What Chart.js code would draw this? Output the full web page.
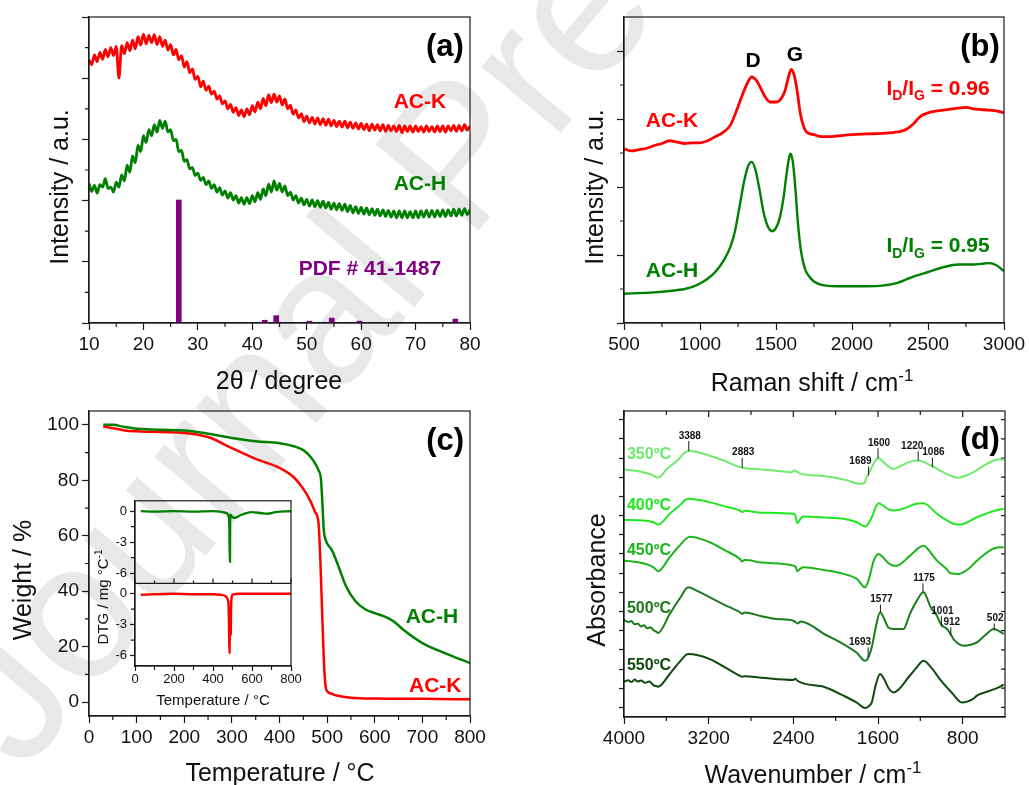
<!DOCTYPE html>
<html>
<head>
<meta charset="utf-8">
<script src="https://cdn.jsdelivr.net/npm/chart.js@4.4.1/dist/chart.umd.min.js"></script>
<style>
  body { margin: 0; background: #fff; width: 1029px; height: 785px; overflow: hidden; position: relative; }
  canvas { position: absolute; }
  .wm { position: absolute; left: -104px; top: 668px; font: 195px "Liberation Sans", Arial, sans-serif; line-height: 1;
        color: #e8e8e8; white-space: nowrap; transform: rotate(-50deg); transform-origin: 0 0; }
</style>
</head>
<body>
<div class="wm">Journal Pre-proof</div>
<canvas id="pa" width="505" height="395" style="left:0;top:0"></canvas>
<canvas id="pb" width="519" height="395" style="left:510px;top:0"></canvas>
<canvas id="pc" width="505" height="390" style="left:0;top:395px"></canvas>
<canvas id="pd" width="519" height="390" style="left:510px;top:395px"></canvas>
<canvas id="pi" width="230" height="220" style="left:80px;top:490px"></canvas>
<script>
// ---- (a) XRD, sampled every 0.5 degree from 10 to 80
const xrdAngleStart = 10, xrdAngleStep = 0.5;
const xrdK = [4.30,4.22,4.38,4.27,4.42,4.31,4.47,4.35,4.50,4.37,4.52,4.00,4.53,4.40,4.58,4.45,4.62,4.48,4.68,4.54,
  4.72,4.56,4.70,4.58,4.71,4.55,4.68,4.52,4.62,4.46,4.55,4.38,4.47,4.30,4.37,4.18,4.27,4.09,4.15,3.98,
  4.03,3.86,3.95,3.80,3.87,3.74,3.79,3.66,3.71,3.58,3.63,3.50,3.57,3.44,3.52,3.39,3.48,3.37,3.50,3.40,
  3.55,3.45,3.61,3.50,3.67,3.55,3.73,3.60,3.74,3.61,3.71,3.56,3.66,3.50,3.56,3.41,3.48,3.35,3.42,3.29,
  3.38,3.27,3.36,3.25,3.35,3.24,3.34,3.23,3.33,3.22,3.31,3.21,3.30,3.20,3.30,3.19,3.28,3.18,3.27,3.17,
  3.26,3.16,3.25,3.14,3.25,3.15,3.24,3.14,3.24,3.13,3.23,3.14,3.22,3.13,3.23,3.11,3.22,3.13,3.22,3.12,
  3.22,3.13,3.21,3.12,3.22,3.13,3.21,3.12,3.22,3.13,3.22,3.12,3.22,3.14,3.23,3.13,3.23,3.14,3.24,3.15,3.22];
const xrdH = [2.28,2.15,2.25,2.12,2.26,2.22,2.36,2.20,2.22,2.14,2.30,2.22,2.42,2.32,2.58,2.46,2.73,2.62,2.90,2.80,
  3.06,2.95,3.16,3.06,3.24,3.12,3.31,3.18,3.30,3.12,3.16,2.98,3.00,2.80,2.82,2.64,2.67,2.52,2.54,2.41,
  2.45,2.33,2.38,2.26,2.32,2.20,2.26,2.14,2.21,2.09,2.16,2.04,2.13,2.01,2.08,1.96,2.05,1.94,2.05,1.95,
  2.08,1.98,2.13,2.02,2.19,2.08,2.27,2.14,2.32,2.17,2.28,2.14,2.24,2.08,2.14,2.01,2.08,1.96,2.04,1.93,
  2.02,1.91,2.01,1.90,2.00,1.89,1.99,1.88,1.97,1.86,1.96,1.85,1.95,1.84,1.94,1.82,1.92,1.80,1.90,1.79,
  1.89,1.78,1.88,1.77,1.87,1.76,1.86,1.75,1.85,1.74,1.84,1.73,1.83,1.72,1.83,1.72,1.83,1.72,1.82,1.72,
  1.83,1.72,1.83,1.73,1.84,1.73,1.84,1.73,1.84,1.74,1.85,1.74,1.85,1.75,1.86,1.75,1.86,1.76,1.87,1.77,1.85];
const pdfAngle = [26.5, 42.3, 44.4, 50.5, 54.6, 59.7, 77.3];
const pdfHeight = [2.01, 0.045, 0.12, 0.03, 0.08, 0.03, 0.065];

// ---- (b) Raman
const ramanShiftK = [500,550,600,650,700,750,800,850,900,950,1000,1050,1100,1150,1200,1250,1280,1310,1340,1370,1400,1430,1460,
  1500,1530,1560,1580,1600,1620,1640,1660,1680,1700,1750,1800,1850,1900,2000,2100,2200,2300,2350,2400,2450,2500,2600,2700,2750,2800,2900,2950,3000];
const ramanK = [2.56,2.53,2.55,2.57,2.61,2.64,2.68,2.66,2.64,2.65,2.65,2.68,2.74,2.80,2.91,3.18,3.36,3.52,3.62,3.57,3.45,3.32,3.25,
  3.25,3.29,3.42,3.60,3.73,3.64,3.40,3.08,2.90,2.81,2.77,2.74,2.74,2.75,2.77,2.78,2.79,2.81,2.84,2.92,3.04,3.09,3.13,3.16,3.17,3.15,3.13,3.12,3.09];
const ramanShiftH = [500,600,700,800,900,950,1000,1050,1100,1150,1200,1230,1260,1290,1315,1340,1365,1390,1420,1450,1475,1500,1525,
  1550,1570,1585,1595,1610,1625,1645,1665,1690,1720,1750,1800,1900,2000,2100,2200,2300,2400,2500,2600,2700,2800,2850,2900,2950,3000];
const ramanH = [0.43,0.44,0.45,0.47,0.50,0.53,0.58,0.65,0.75,0.90,1.12,1.35,1.71,2.08,2.30,2.37,2.25,1.98,1.61,1.40,1.35,1.40,1.55,
  1.85,2.20,2.42,2.49,2.38,2.05,1.45,1.05,0.80,0.68,0.61,0.56,0.54,0.54,0.54,0.55,0.59,0.68,0.75,0.82,0.86,0.86,0.87,0.88,0.85,0.76];

// ---- (c) TGA and DTG inset
const tgaTempH = [30,50,75,100,150,200,250,300,350,400,430,450,465,475,482,487,490,493,496,500,510,520,540,560,580,600,620,640,660,700,750,800];
const tgaWeightH = [100,100,99.2,98.6,98.2,98.0,96.8,95.3,94.1,93.4,92.3,90.9,88.5,86.0,83.6,80.5,72,62,59.0,57.2,54.8,50.7,41.7,36.3,33.5,32.1,30.9,29.1,26.1,21.3,17.5,14.1];
const tgaTempK = [30,50,75,100,150,200,250,300,350,400,430,450,465,475,482,486,490,494,497,500,510,520,550,600,700,800];
const tgaWeightK = [99.4,98.8,98.0,97.7,97.4,97.1,95.6,91.6,87.7,84.5,81.1,76.9,72.5,68.5,64.5,50,30,12,5.5,4.0,3.0,2.4,1.6,1.3,1.2,1.0];
const dtgTempH = [30,100,200,300,400,450,470,480,484,486,487,488,490,495,505,520,540,570,600,650,680,720,800];
const dtgH = [0,-0.05,0,-0.05,0,-0.1,-0.2,-0.45,-1.5,-4.9,-4.9,-1.0,-0.35,-0.45,-0.65,-0.6,-0.4,-0.2,-0.1,-0.2,-0.25,-0.1,0];
const dtgTempK = [30,100,200,300,400,440,460,470,476,480,482,484,485,487,489,491,493,496,500,510,530,600,800];
const dtgK = [-0.1,-0.05,0,-0.05,-0.05,-0.1,-0.2,-0.35,-0.6,-1.2,-3.0,-5.75,-5.6,-2.5,-4.0,-3.9,-1.2,-0.3,-0.1,-0.05,0,0,0];

// ---- (d) FTIR, offset absorbance
const irTickValues = [800, 1600, 2400, 3200, 4000];
const ir350Wn = [4000,3850,3750,3672,3600,3500,3394,3300,3195,3050,2889,2700,2500,2420,2390,2369,2340,2100,1900,1769,1730,1706,1660,1620,1595,1560,1500,1453,1380,1300,1217,1150,1069,1000,900,854,800,700,600,500,450,412];
const ir350 = [12.4,12.3,12.15,11.98,12.4,12.85,13.36,13.3,13.13,12.85,12.5,12.4,12.3,12.25,12.35,12.3,12.2,12.05,11.85,11.65,11.7,12.0,12.5,12.9,13.0,12.85,12.55,12.43,12.6,12.8,12.87,12.75,12.52,12.3,12.05,11.97,12.02,12.25,12.6,12.88,12.93,12.9];
const ir400Wn = [4000,3820,3720,3678,3568,3480,3394,3195,3050,2905,2883,2860,2700,2400,2380,2362,2330,2305,2100,1927,1800,1722,1690,1659,1620,1595,1560,1500,1453,1400,1327,1250,1170,1120,1043,950,854,800,665,500,412];
const ir400 = [9.77,9.74,9.65,9.53,10.09,10.5,10.87,10.70,10.48,10.26,10.18,10.25,10.15,10.09,10.0,9.60,9.85,9.95,9.9,9.83,9.65,9.43,9.6,9.91,10.45,10.64,10.55,10.32,10.26,10.3,10.43,10.6,10.64,10.5,10.09,9.75,9.53,9.55,9.91,10.25,10.35];
const ir450Wn = [4000,3820,3720,3678,3568,3480,3378,3189,3050,2905,2883,2860,2700,2400,2375,2362,2330,2305,2100,1927,1800,1722,1690,1640,1595,1560,1500,1453,1422,1300,1170,1100,1043,950,917,838,750,665,500,412];
const ir450 = [7.65,7.51,7.3,7.10,7.83,8.4,8.90,8.61,8.2,7.74,7.6,7.7,7.55,7.39,7.3,7.10,7.25,7.30,7.15,6.96,6.7,6.26,6.61,7.65,8.0,7.86,7.51,7.39,7.39,7.9,8.43,8.05,7.65,7.2,6.99,6.96,7.2,7.65,8.3,8.35];
const ir500Wn = [4000,3960,3930,3900,3870,3840,3810,3780,3750,3720,3690,3678,3568,3470,3394,3315,3189,3050,2905,2883,2860,2700,2558,2400,2380,2362,2330,2100,1927,1800,1722,1696,1659,1620,1580,1540,1500,1453,1359,1300,1240,1170,1100,1050,1001,950,912,885,791,665,580,507,412];
const ir500 = [4.56,4.45,4.50,4.33,4.37,4.22,4.28,4.12,4.18,4.02,3.93,3.88,4.87,5.7,6.26,6.09,5.74,5.35,4.96,4.88,4.95,4.75,4.61,4.52,4.45,4.38,4.48,3.8,3.30,2.85,2.43,2.55,3.13,4.2,4.96,4.6,4.15,4.09,4.09,4.85,5.5,6.0,5.2,4.85,4.3,4.1,3.8,3.55,3.22,3.39,3.8,4.09,3.83];
const ir550Wn = [4000,3960,3930,3900,3870,3840,3800,3760,3720,3690,3678,3568,3470,3394,3189,3050,2905,2883,2860,2700,2400,2380,2362,2100,1927,1800,1722,1690,1659,1620,1580,1540,1500,1453,1300,1240,1170,1100,1012,900,807,700,665,500,412];
const ir550 = [1.34,1.42,1.32,1.45,1.35,1.40,1.28,1.35,1.15,1.10,1.08,1.74,2.4,2.78,2.52,2.1,1.65,1.60,1.63,1.55,1.43,1.50,1.39,1.05,0.61,0.25,-0.03,0.05,0.26,1.2,1.74,1.45,1.0,0.78,1.65,2.05,2.43,2.1,1.45,0.75,0.26,0.45,0.61,0.95,1.18];
const irMarkWn = [3388, 2883, 1689, 1600, 1220, 1086, 1175, 1577, 1001, 912, 502, 1693];
const irMarkTop = [13.88, 13.01, 12.56, 13.51, 13.34, 13.01, 6.47, 5.36, 4.75, 4.17, 4.38, 3.13];
const irMarkBottom = [13.36, 12.49, 12.09, 12.99, 12.87, 12.52, 6.0, 4.96, 4.21, 3.74, 4.03, 2.61];

const FONT = '"Liberation Sans", Arial, Helvetica, sans-serif';
const INK = '#1a1a1a';
const RED = '#ff0000', GREEN = '#008000', PURPLE = '#800080';
const IR_COLORS = ['#6eea6e', '#22e622', '#1cb41c', '#1b7a1b', '#0f4a0f'];

const pts = (xs, ys) => ys.map((y, i) => ({ x: xs[i], y }));

function line(data, color, width, yAxisID) {
  return { data, borderColor: color, borderWidth: width, pointRadius: 0, fill: false,
    cubicInterpolationMode: 'monotone', borderJoin: 'round', yAxisID: yAxisID || 'y' };
}

function scale(o) {
  const s = {
    type: 'linear', position: o.pos, min: o.min, max: o.max, reverse: !!o.reverse, offset: false,
    stack: o.stack, stackWeight: 1,
    border: { color: INK, width: 1.2 },
    grid: { offset: false, drawOnChartArea: false, drawTicks: true, tickLength: o.tick || 7, tickWidth: 1.2, tickColor: INK },
    ticks: { stepSize: o.step, includeBounds: false, autoSkip: false, maxRotation: 0, minRotation: 0,
      padding: o.pad == null ? 3 : o.pad, color: '#111', font: { family: FONT, size: o.font || 19 },
      callback: v => (o.labels ? v : '') },
    afterFit: sc => { if (o.pos === 'bottom') sc.height = o.size; else sc.width = o.size; }
  };
  if (o.values) s.afterBuildTicks = sc => { sc.ticks = o.values.map(v => ({ value: v })); };
  return s;
}

// text with optional sub (1) / superscript (2) parts, y is the cap middle
function drawRich(ctx, n, x, y) {
  const parts = n.parts || [[n.text, 0]];
  const fs = n.size, w = n.bold ? 'bold ' : '';
  const fontFor = k => w + (k ? Math.round(fs * 0.68) : fs) + 'px ' + FONT;
  let total = 0;
  parts.forEach(p => { ctx.font = fontFor(p[1]); total += ctx.measureText(p[0]).width; });
  ctx.save();
  ctx.translate(x, y);
  if (n.rotate) ctx.rotate(n.rotate * Math.PI / 180);
  let cx = n.align === 'left' ? 0 : n.align === 'right' ? -total : -total / 2;
  ctx.fillStyle = n.color || '#000';
  ctx.textBaseline = 'alphabetic';
  parts.forEach(p => {
    ctx.font = fontFor(p[1]);
    const dy = p[1] === 1 ? fs * 0.25 : p[1] === 2 ? -fs * 0.4 : 0;
    ctx.fillText(p[0], cx, fs * 0.358 + dy);
    cx += ctx.measureText(p[0]).width;
  });
  ctx.restore();
}

const deco = {
  id: 'deco',
  afterDraw(chart, args, o) {
    const ctx = chart.ctx, a = chart.chartArea;
    ctx.save();
    ctx.strokeStyle = INK;
    ctx.lineWidth = 1.2;
    ctx.beginPath();
    (o.minor || []).forEach(id => {
      const s = chart.scales[id];
      const px = s.ticks.map(t => s.getPixelForValue(t.value));
      for (let i = 0; i < px.length - 1; i++) {
        const m = (px[i] + px[i + 1]) / 2;
        if (s.isHorizontal()) { ctx.moveTo(m, a.bottom); ctx.lineTo(m, a.bottom + 4); }
        else { ctx.moveTo(a.left, m); ctx.lineTo(a.left - 4, m); }
      }
    });
    if (o.mirror) {
      const sx = chart.scales.x, sy = chart.scales.y;
      const xp = sx.ticks.map(t => sx.getPixelForValue(t.value));
      xp.forEach((p, i) => {
        ctx.moveTo(p, a.top); ctx.lineTo(p, a.top + 6);
        if (i < xp.length - 1) { const m = (p + xp[i + 1]) / 2; ctx.moveTo(m, a.top); ctx.lineTo(m, a.top + 4); }
      });
      sy.ticks.forEach(t => { const p = sy.getPixelForValue(t.value); ctx.moveTo(a.right, p); ctx.lineTo(a.right - 4, p); });
    }
    if (o.split) {
      const yb = chart.scales[o.split].bottom, sx = chart.scales.x;
      ctx.moveTo(a.left, yb); ctx.lineTo(a.right, yb);
      const xp = sx.ticks.map(t => sx.getPixelForValue(t.value));
      xp.forEach((p, i) => {
        ctx.moveTo(p, yb); ctx.lineTo(p, yb - 5);
        if (i < xp.length - 1) { const m = (p + xp[i + 1]) / 2; ctx.moveTo(m, yb); ctx.lineTo(m, yb - 3); }
      });
    }
    ctx.stroke();
    ctx.strokeRect(a.left, a.top, a.right - a.left, a.bottom - a.top);
    (o.marks || []).forEach(m => {
      const x = chart.scales.x.getPixelForValue(m.x);
      const y1 = chart.scales.y.getPixelForValue(m.top), y2 = chart.scales.y.getPixelForValue(m.bottom);
      ctx.lineWidth = 1;
      ctx.beginPath(); ctx.moveTo(x, y1); ctx.lineTo(x, y2); ctx.stroke();
      const tx = m.align === 'right' ? x + 3 : x + (m.dx || 0) + 1;
      drawRich(ctx, { text: m.text, size: 10, bold: true, color: '#111', align: m.align }, tx, y1 - 6);
    });
    (o.notes || []).forEach(n => {
      const x = n.px != null ? n.px : chart.scales.x.getPixelForValue(n.x);
      const y = n.py != null ? n.py : chart.scales[n.axis || 'y'].getPixelForValue(n.y);
      drawRich(ctx, n, x, y);
    });
    ctx.restore();
  }
};

function make(id, datasets, scales, padding, decoOpts) {
  return new Chart(document.getElementById(id), {
    type: 'line',
    data: { datasets },
    options: {
      responsive: false, animation: false, events: [],
      layout: { padding },
      scales,
      plugins: { legend: { display: false }, tooltip: { enabled: false }, deco: decoOpts }
    },
    plugins: [deco]
  });
}

// (a)
make('pa', [
  line(xrdK.map((y, i) => ({ x: xrdAngleStart + i * xrdAngleStep, y })), RED, 2.8),
  line(xrdH.map((y, i) => ({ x: xrdAngleStart + i * xrdAngleStep, y })), GREEN, 2.8),
  { type: 'bar', data: pts(pdfAngle, pdfHeight), backgroundColor: PURPLE, borderWidth: 0, barThickness: 5, grouped: false }
], {
  x: scale({ pos: 'bottom', min: 10, max: 80, step: 10, labels: true, size: 72 }),
  y: scale({ pos: 'left', min: 0, max: 5, step: 1, size: 89 })
}, { top: 17, right: 35, left: 0, bottom: 0 }, {
  minor: ['x', 'y'],
  notes: [
    { x: 75.4, y: 4.54, text: '(a)', size: 31, bold: true },
    { x: 70.8, y: 3.64, text: 'AC-K', size: 21, bold: true, color: RED },
    { x: 70.8, y: 2.29, text: 'AC-H', size: 21, bold: true, color: GREEN },
    { x: 61.6, y: 0.90, text: 'PDF # 41-1487', size: 21, bold: true, color: PURPLE },
    { px: 279, py: 380, text: '2θ / degree', size: 25, color: '#111' },
    { px: 59, py: 187, text: 'Intensity / a.u.', size: 25, rotate: -90, color: '#111' }
  ]
});

// (b)
make('pb', [
  line(pts(ramanShiftK, ramanK), RED, 2.8),
  line(pts(ramanShiftH, ramanH), GREEN, 2.4)
], {
  x: scale({ pos: 'bottom', min: 500, max: 3000, step: 500, labels: true, size: 72 }),
  y: scale({ pos: 'left', min: 0, max: 4.5, step: 1, size: 114 })
}, { top: 17, right: 25, left: 0, bottom: 0 }, {
  minor: ['x', 'y'],
  notes: [
    { x: 2842, y: 4.09, text: '(b)', size: 31, bold: true },
    { x: 1349, y: 3.88, text: 'D', size: 21, bold: true },
    { x: 1625, y: 3.96, text: 'G', size: 21, bold: true },
    { x: 816, y: 2.99, text: 'AC-K', size: 21, bold: true, color: RED },
    { x: 816, y: 0.78, text: 'AC-H', size: 21, bold: true, color: GREEN },
    { x: 2566, y: 3.46, size: 21, bold: true, color: RED, parts: [['I', 0], ['D', 1], ['/I', 0], ['G', 1], [' = 0.96', 0]] },
    { x: 2566, y: 1.15, size: 21, bold: true, color: GREEN, parts: [['I', 0], ['D', 1], ['/I', 0], ['G', 1], [' = 0.95', 0]] },
    { px: 302, py: 382, size: 25, color: '#111', parts: [['Raman shift / cm', 0], ['-1', 2]] },
    { px: 84, py: 187, text: 'Intensity / a.u.', size: 25, rotate: -90, color: '#111' }
  ]
});

// (c)
make('pc', [
  line(pts(tgaTempH, tgaWeightH), GREEN, 2.5),
  line(pts(tgaTempK, tgaWeightK), RED, 2.5)
], {
  x: scale({ pos: 'bottom', min: 0, max: 800, step: 100, labels: true, size: 69 }),
  y: scale({ pos: 'left', min: -5, max: 105, step: 20, labels: true, size: 89 })
}, { top: 16, right: 35, left: 0, bottom: 0 }, {
  minor: ['x', 'y'],
  notes: [
    { x: 748, y: 94.9, text: '(c)', size: 31, bold: true },
    { x: 720, y: 31.1, text: 'AC-H', size: 21, bold: true, color: GREEN },
    { x: 727, y: 6.5, text: 'AC-K', size: 21, bold: true, color: RED },
    { px: 280, py: 377, text: 'Temperature / °C', size: 25, color: '#111' },
    { px: 22, py: 185, text: 'Weight / %', size: 25, rotate: -90, color: '#111' }
  ]
});

// (c) inset: two stacked DTG panels sharing the temperature axis
make('pi', [
  line(pts(dtgTempH, dtgH), GREEN, 2.4, 'yg'),
  line(pts(dtgTempK, dtgK), RED, 2.4, 'yr')
], {
  x: scale({ pos: 'bottom', min: 0, max: 800, step: 200, labels: true, size: 44, font: 13, tick: 5, pad: 1 }),
  yr: scale({ pos: 'left', stack: 'dtg', min: -7, max: 1, step: 3, labels: true, size: 55, font: 13, tick: 5, pad: 3 }),
  yg: scale({ pos: 'left', stack: 'dtg', min: -7, max: 1, step: 3, labels: true, size: 55, font: 13, tick: 5, pad: 3 })
}, { top: 8, right: 19, left: 0, bottom: 0 }, {
  minor: ['x', 'yg', 'yr'],
  split: 'yg',
  notes: [
    { px: 133, py: 210, text: 'Temperature / °C', size: 15, color: '#111' },
    { px: 23, py: 107, size: 15, rotate: -90, color: '#111', parts: [['DTG / mg °C', 0], ['-1', 2]] }
  ]
});

// (d)
const irSeries = [[ir350Wn, ir350], [ir400Wn, ir400], [ir450Wn, ir450], [ir500Wn, ir500], [ir550Wn, ir550]];
const irLabels = ['350ºC', '400ºC', '450ºC', '500ºC', '550ºC'];
const irLabelY = [13.23, 10.57, 8.26, 5.22, 2.23];
const markAlign = { 1689: 'right', 1693: 'right' };
const markDx = { 1220: -7 };
make('pd', irSeries.map((s, i) => line(pts(s[0], s[1]), IR_COLORS[i], 2)), {
  x: scale({ pos: 'bottom', min: 400, max: 4000, values: irTickValues, reverse: true, labels: true, size: 68 }),
  y: scale({ pos: 'left', min: -0.5, max: 15.45, step: 1, size: 114, tick: 5 })
}, { top: 16, right: 24, left: 0, bottom: 0 }, {
  minor: ['x'],
  mirror: true,
  marks: irMarkWn.map((w, i) => ({ x: w, top: irMarkTop[i], bottom: irMarkBottom[i], text: String(w),
    align: markAlign[w], dx: markDx[w] })),
  notes: [
    { x: 635, y: 14.07, text: '(d)', size: 31, bold: true },
    ...irLabels.map((t, i) => ({ x: 3972, y: irLabelY[i], text: t, size: 16, bold: true, color: IR_COLORS[i], align: 'left' })),
    { px: 303, py: 379, size: 25, color: '#111', parts: [['Wavenumber / cm', 0], ['-1', 2]] },
    { px: 86, py: 185, text: 'Absorbance', size: 25, rotate: -90, color: '#111' }
  ]
});
</script>
</body>
</html>
